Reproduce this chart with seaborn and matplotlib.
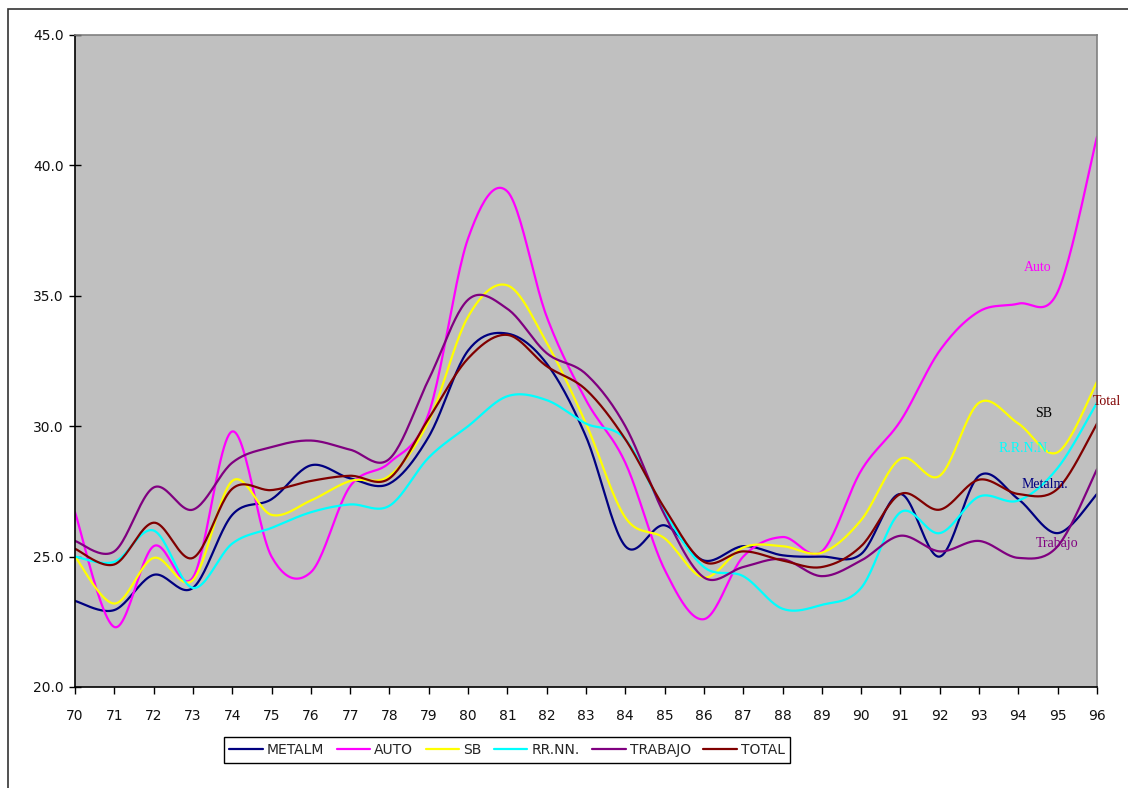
import numpy as np
import pandas as pd
import matplotlib
matplotlib.use("Agg")
import matplotlib.pyplot as plt
from matplotlib.patches import Rectangle
import seaborn as sns

# Years (1970-1996) and index values per sector
years = list(range(70, 97))

metalm = [23.3, 22.95, 24.3, 23.8, 26.6, 27.2, 28.5, 28.0, 27.8, 29.6, 32.9, 33.55, 32.4,
          29.6, 25.4, 26.2, 24.85, 25.4, 25.05, 25.0, 25.1, 27.4, 25.0, 28.1, 27.2, 25.9, 27.4]
auto = [26.7, 22.3, 25.4, 24.2, 29.8, 25.0, 24.4, 27.7, 28.6, 30.5, 37.2, 39.0, 34.2,
        31.0, 28.6, 24.5, 22.6, 25.0, 25.75, 25.2, 28.3, 30.2, 32.9, 34.4, 34.7, 35.15, 41.1]
sb = [25.0, 23.2, 24.95, 24.1, 27.9, 26.6, 27.15, 27.9, 28.1, 30.2, 34.2, 35.4, 33.2,
      30.1, 26.5, 25.7, 24.2, 25.35, 25.4, 25.15, 26.4, 28.75, 28.1, 30.9, 30.1, 29.0, 31.7]
rrnn = [25.0, 24.8, 26.0, 23.8, 25.5, 26.1, 26.7, 27.0, 26.95, 28.8, 30.0, 31.15, 31.0,
        30.1, 29.5, 26.7, 24.6, 24.25, 23.0, 23.15, 23.8, 26.7, 25.9, 27.3, 27.15, 28.4, 30.9]
trabajo = [25.6, 25.2, 27.65, 26.8, 28.6, 29.2, 29.45, 29.1, 28.75, 31.8, 34.85, 34.5, 32.8,
           32.0, 30.0, 26.6, 24.2, 24.6, 24.9, 24.25, 24.85, 25.8, 25.2, 25.6, 24.95, 25.4, 28.35]
total = [25.3, 24.7, 26.3, 24.95, 27.6, 27.55, 27.9, 28.1, 28.0, 30.3, 32.6, 33.5, 32.3,
         31.4, 29.5, 26.85, 24.8, 25.2, 24.85, 24.6, 25.4, 27.4, 26.8, 27.95, 27.4, 27.6, 30.1]

series_names = ["METALM", "AUTO", "SB", "RR.NN.", "TRABAJO", "TOTAL"]
series_values = [metalm, auto, sb, rrnn, trabajo, total]
series_colors = ["#000080", "#FF00FF", "#FFFF00", "#00FFFF", "#800080", "#800000"]

# End-of-line labels: text, colour, (x, y) in data units
end_labels = [
    ("Auto", "#FF00FF", 94.48, 36.1),
    ("SB", "#000000", 94.63, 30.5),
    ("Total", "#800000", 96.26, 30.93),
    ("R.R.N.N.", "#00FFFF", 94.17, 29.13),
    ("Metalm.", "#000080", 94.68, 27.75),
    ("Trabajo", "#800080", 94.99, 25.52),
]

y_ticks = [20.0, 25.0, 30.0, 35.0, 40.0, 45.0]


def smoothed(xs, ys, steps=24):
    """Cubic Bezier smoothing through every point (spreadsheet-style smooth line)."""
    xs = np.asarray(xs, float)
    ys = np.asarray(ys, float)
    n = len(xs)
    out_x, out_y = [], []
    t = np.linspace(0, 1, steps, endpoint=False)
    for i in range(n - 1):
        i0 = max(i - 1, 0)
        i3 = min(i + 2, n - 1)
        p0 = np.array([xs[i0], ys[i0]])
        p1 = np.array([xs[i], ys[i]])
        p2 = np.array([xs[i + 1], ys[i + 1]])
        p3 = np.array([xs[i3], ys[i3]])
        c1 = p1 + (p2 - p0) / 6.0
        c2 = p2 - (p3 - p1) / 6.0
        b = ((1 - t) ** 3)[:, None] * p1 + (3 * (1 - t) ** 2 * t)[:, None] * c1 \
            + (3 * (1 - t) * t ** 2)[:, None] * c2 + (t ** 3)[:, None] * p2
        out_x.extend(b[:, 0])
        out_y.extend(b[:, 1])
    out_x.append(xs[-1])
    out_y.append(ys[-1])
    return np.array(out_x), np.array(out_y)


sns.set_theme(style="white")
plt.rcParams["font.family"] = ["DejaVu Sans"]

fig = plt.figure(figsize=(11.28, 7.88), dpi=100)
ax = fig.add_axes([75 / 1128, 1 - 687 / 788, (1097 - 75) / 1128, (687 - 35) / 788])
ax.set_facecolor("#C0C0C0")

frames = []
for name, vals in zip(series_names, series_values):
    sx, sy = smoothed(years, vals)
    frames.append(pd.DataFrame({"year": sx, "value": sy, "serie": name}))
df = pd.concat(frames, ignore_index=True)

sns.lineplot(data=df, x="year", y="value", hue="serie", hue_order=series_names,
             palette=series_colors, estimator=None, sort=False, linewidth=1.6, ax=ax)

ax.set_xlim(70, 96)
ax.set_ylim(20, 45)
ax.set_xticks(years)
ax.set_xticklabels([str(y) for y in years])
ax.set_yticks(y_ticks)
ax.set_yticklabels([f"{v:.1f}" for v in y_ticks])
ax.set_xlabel("")
ax.set_ylabel("")

ax.tick_params(axis="y", direction="inout", length=8, width=1, color="black",
               labelsize=10, pad=4, labelcolor="#111111")
ax.tick_params(axis="x", direction="out", length=5, width=1, color="black",
               labelsize=10, pad=11, labelcolor="#111111")
ax.tick_params(left=True, bottom=True)

for side in ["left", "bottom"]:
    ax.spines[side].set_color("black")
    ax.spines[side].set_linewidth(1.2)
for side in ["top", "right"]:
    ax.spines[side].set_color("#808080")
    ax.spines[side].set_linewidth(1.2)

for text, color, x, y in end_labels:
    ax.text(x, y, text, color=color, ha="center", va="center", fontsize=10,
            family=["Liberation Serif", "DejaVu Serif"], clip_on=False)

handles, labels = ax.get_legend_handles_labels()
ax.legend(handles, labels, loc="center", bbox_to_anchor=(507 / 1128, 1 - 750 / 788),
          bbox_transform=fig.transFigure, ncol=6, frameon=True, fancybox=False,
          edgecolor="black", facecolor="white", framealpha=1, fontsize=10,
          handlelength=2.4, handletextpad=0.3, columnspacing=0.9, borderpad=0.4)
ax.get_legend().get_frame().set_linewidth(1.0)

# Outer chart border
fig.patches.append(Rectangle((8 / 1128, -0.05), 1.2, 1 - 9 / 788 + 0.05,
                             transform=fig.transFigure, fill=False,
                             edgecolor="#333333", linewidth=1.2))

fig.savefig("out.png", dpi=100, facecolor="white")
